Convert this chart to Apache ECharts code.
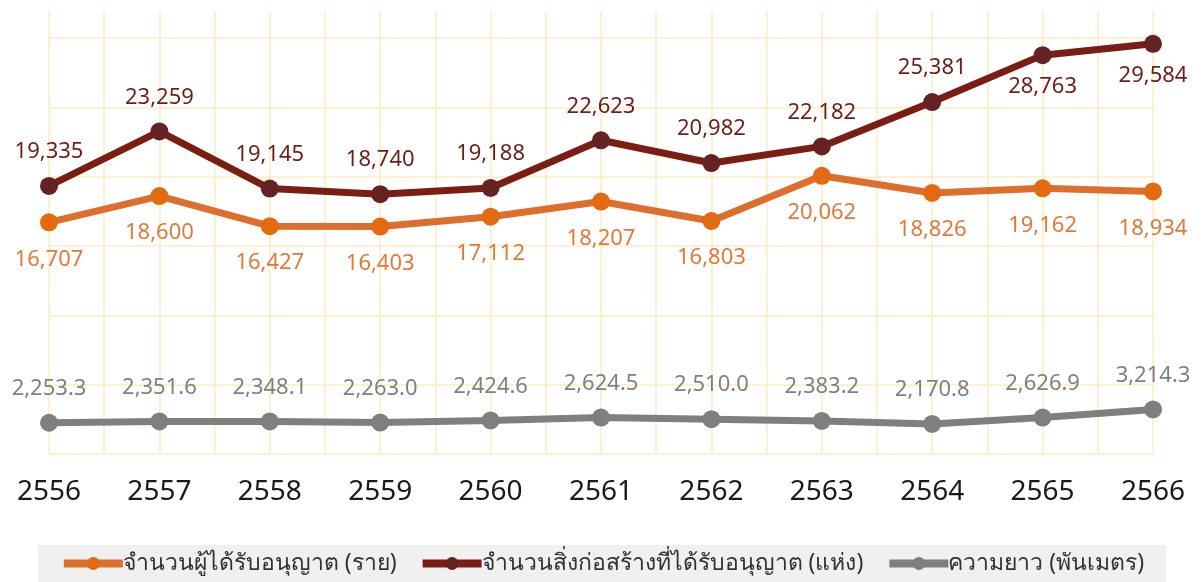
<!DOCTYPE html>
<html>
<head>
<meta charset="utf-8">
<script src="https://cdn.jsdelivr.net/npm/echarts@6/dist/echarts.min.js"></script>
<style>
  html, body { margin: 0; padding: 0; background: #fff; }
  #chart { width: 1204px; height: 582px; }
</style>
</head>
<body>
<div id="chart"></div>
<script>
// ปี พ.ศ.
const years = ['2556', '2557', '2558', '2559', '2560', '2561', '2562', '2563', '2564', '2565', '2566']
// จำนวนผู้ได้รับอนุญาต (ราย)
const permitPeople = [16707, 18600, 16427, 16403, 17112, 18207, 16803, 20062, 18826, 19162, 18934]
// จำนวนสิ่งก่อสร้างที่ได้รับอนุญาต (แห่ง)
const permitBuildings = [19335, 23259, 19145, 18740, 19188, 22623, 20982, 22182, 25381, 28763, 29584]
// ความยาว (พันเมตร)
const lengthKm = [2253.3, 2351.6, 2348.1, 2263.0, 2424.6, 2624.5, 2510.0, 2383.2, 2170.8, 2626.9, 3214.3]
// ป้ายของเส้นแดงที่อยู่ใต้จุด
const buildingLabelsBelow = ['2565', '2566']

const names = [
  'จำนวนผู้ได้รับอนุญาต (ราย)',
  'จำนวนสิ่งก่อสร้างที่ได้รับอนุญาต (แห่ง)',
  'ความยาว (พันเมตร)'
]

const font = 'Noto Sans, sans-serif'
const gridColor = '#FDECC2'

// เส้นแนวตั้งครึ่งช่อง ใช้แกน x ซ่อนอีกแกน
const halfTicks = []
for (let i = 0; i < years.length * 2 - 1; i++) halfTicks.push('h' + i)

function fmt (v, digits) {
  return v.toLocaleString('en-US', { minimumFractionDigits: digits, maximumFractionDigits: digits })
}

let mycharts = echarts.init(document.getElementById('chart'))
mycharts.setOption({
  animation: false,
  textStyle: { fontFamily: font },
  grid: [
    { left: 49, right: 51, top: 38, bottom: 128 },
    { left: 49, right: 51, top: 11, bottom: 128 }
  ],
  legend: {
    left: 'center',
    bottom: 0,
    backgroundColor: '#F0F0F0',
    padding: [7, 22, 7, 22],
    itemGap: 22,
    itemWidth: 59,
    itemHeight: 16,
    lineStyle: { width: 8 },
    textStyle: { fontSize: 23, color: '#333', fontFamily: font, padding: [0, 0, 0, -5] },
    data: names
  },
  xAxis: [
    {
      type: 'category',
      gridIndex: 0,
      data: years,
      boundaryGap: false,
      axisLine: { show: false },
      axisTick: { show: false },
      splitLine: { show: false },
      axisLabel: { fontSize: 28, color: '#1a1a1a', margin: 24, fontFamily: font }
    },
    {
      type: 'category',
      gridIndex: 1,
      data: halfTicks,
      boundaryGap: false,
      axisLine: { show: false },
      axisTick: { show: false },
      axisLabel: { show: false },
      splitLine: { show: true, interval: 0, lineStyle: { color: gridColor, width: 1.5 } }
    }
  ],
  yAxis: [
    {
      type: 'value',
      gridIndex: 0,
      min: 0,
      max: 30000,
      interval: 5000,
      axisLine: { show: false },
      axisTick: { show: false },
      axisLabel: { show: false },
      splitLine: { lineStyle: { color: gridColor, width: 1.5 } }
    },
    {
      type: 'value',
      gridIndex: 1,
      show: false,
      splitLine: { show: false }
    }
  ],
  series: [
    {
      name: names[0],
      type: 'line',
      symbol: 'circle',
      symbolSize: 18,
      lineStyle: { color: '#DE6E2B', width: 7 },
      itemStyle: { color: '#E36A10' },
      label: {
        show: true,
        position: 'bottom',
        distance: 17,
        fontSize: 22,
        color: '#E07A3A',
        fontFamily: font,
        formatter: p => fmt(p.value, 0)
      },
      data: permitPeople,
      z: 3
    },
    {
      name: names[1],
      type: 'line',
      symbol: 'circle',
      symbolSize: 18,
      lineStyle: { color: '#7A1E14', width: 7 },
      itemStyle: { color: '#652222' },
      label: {
        show: true,
        position: 'top',
        distance: 14,
        fontSize: 22,
        color: '#6E1E1A',
        fontFamily: font,
        formatter: p => fmt(p.value, 0)
      },
      data: permitBuildings.map((v, i) => buildingLabelsBelow.includes(years[i])
        ? { value: v, label: { position: 'bottom', distance: 12 } }
        : v),
      z: 4
    },
    {
      name: names[2],
      type: 'line',
      symbol: 'circle',
      symbolSize: 18,
      lineStyle: { color: '#7F7F7F', width: 7 },
      itemStyle: { color: '#7F7F7F' },
      label: {
        show: true,
        position: 'top',
        distance: 14,
        fontSize: 22,
        color: '#808080',
        fontFamily: font,
        formatter: p => fmt(p.value, 1)
      },
      data: lengthKm,
      z: 3
    }
  ]
})
</script>
</body>
</html>
